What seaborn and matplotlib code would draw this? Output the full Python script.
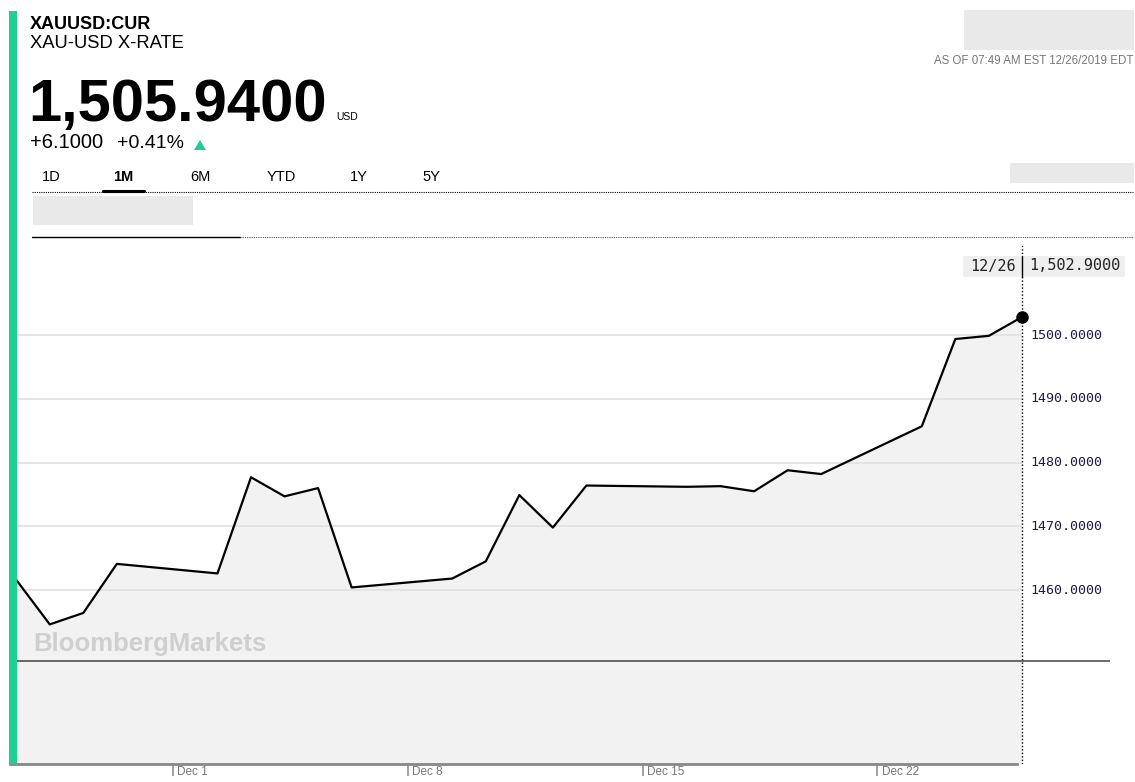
import pandas as pd
import matplotlib.pyplot as plt
import matplotlib.dates as mdates
from matplotlib.patches import Rectangle, Polygon
from matplotlib.lines import Line2D
import seaborn as sns

# data (daily fixes at 07:49)
days = ['2019-11-26', '2019-11-27', '2019-11-28', '2019-11-29',
        '2019-12-02', '2019-12-03', '2019-12-04', '2019-12-05', '2019-12-06',
        '2019-12-09', '2019-12-10', '2019-12-11', '2019-12-12', '2019-12-13',
        '2019-12-16', '2019-12-17', '2019-12-18', '2019-12-19', '2019-12-20',
        '2019-12-23', '2019-12-24', '2019-12-25', '2019-12-26']
prices = [1461.6, 1454.6, 1456.4, 1464.1,
          1462.6, 1477.7, 1474.7, 1476.0, 1460.4,
          1461.8, 1464.5, 1474.9, 1469.8, 1476.4,
          1476.2, 1476.3, 1475.5, 1478.8, 1478.2,
          1485.7, 1499.4, 1499.9, 1502.9]
grid_levels = [1460, 1470, 1480, 1490, 1500]
ref_level = 1448.85
tick_days = ['2019-12-01', '2019-12-08', '2019-12-15', '2019-12-22']
tick_labels = ['Dec 1', 'Dec 8', 'Dec 15', 'Dec 22']
tabs = ['1D', '1M', '6M', 'YTD', '1Y', '5Y']

W, H = 1135, 782
GREEN = '#1fcf96'


def fx(x):
    return x / W


def fy(y):
    return 1 - y / H


def main():
    sns.set_theme(style='white')
    plt.rcParams['font.family'] = ['Liberation Sans', 'DejaVu Sans']
    plt.rcParams['text.color'] = 'black'

    df = pd.DataFrame({'date': pd.to_datetime(days) + pd.Timedelta(hours=7, minutes=49),
                       'price': prices})
    last_date = df['date'].iloc[-1]
    last_price = df['price'].iloc[-1]

    fig = plt.figure(figsize=(W / 100, H / 100), dpi=100)
    fig.patch.set_facecolor('white')

    # plot area in pixels: x 10..1110, y 240..764
    ax = fig.add_axes([fx(10), fy(764), (1110 - 10) / W, (764 - 240) / H])
    ax.set_facecolor('none')

    d1 = mdates.date2num(pd.Timestamp('2019-12-01'))
    px_day = 33.54
    ax.set_xlim(d1 - 163 / px_day, d1 + 937 / px_day)
    ax.set_ylim(1460 - 174 / 6.37, 1460 + 350 / 6.37)
    x0 = ax.get_xlim()[0]
    y0 = ax.get_ylim()[0]

    ax.hlines(grid_levels, x0, mdates.date2num(last_date), color='#e2e2e2', lw=1.3, zorder=1)
    ax.fill_between(df['date'], df['price'], y0, color='#f2f2f2', lw=0, zorder=0)
    ax.axhline(ref_level, color='#505050', lw=1.2, zorder=2)
    sns.lineplot(data=df, x='date', y='price', ax=ax, color='black', lw=1.6, zorder=4)
    ax.plot([last_date], [last_price], 'o', color='black', ms=8, zorder=5)
    ax.axvline(last_date, ymin=0, ymax=(764 - 245) / 524, color='black', lw=1,
               linestyle=(0, (1, 1.5)), zorder=3)

    for v in grid_levels:
        ax.annotate(f'{v:.4f}', xy=(last_date, v), xytext=(5.5, 0), textcoords='offset points',
                    va='center', ha='left', fontsize=9.6, family='DejaVu Sans Mono',
                    color='#1c1c4a')

    for s in ['left', 'right', 'top']:
        ax.spines[s].set_visible(False)
    ax.spines['bottom'].set_color('#888888')
    ax.spines['bottom'].set_linewidth(2)
    ax.spines['bottom'].set_bounds(x0, mdates.date2num(last_date) - 0.15)

    ax.set_yticks([])
    ax.set_xticks(pd.to_datetime(tick_days))
    ax.set_xticklabels([])
    ax.tick_params(axis='x', bottom=True, direction='out', length=8.6, width=1.3, color='#9a9a9a')
    for d, lab in zip(pd.to_datetime(tick_days), tick_labels):
        ax.annotate(lab, xy=(d, 0), xycoords=('data', 'axes fraction'), xytext=(3, -1.5),
                    textcoords='offset points', va='top', ha='left', fontsize=8.5, color='#777777')
    ax.set_xlabel('')
    ax.set_ylabel('')

    # watermark
    fig.text(fx(33), fy(650.5), 'BloombergMarkets', fontsize=18.5, fontweight='bold',
             color='#cfcfcf', va='baseline')

    # tooltip at the last point
    fig.add_artist(Rectangle((fx(963), fy(277)), (1125 - 963) / W, 21 / H,
                             color='#efefef', lw=0, zorder=6))
    fig.add_artist(Line2D([fx(1022), fx(1022)], [fy(277), fy(256)], color='black', lw=1, zorder=7))
    fig.text(fx(993), fy(266), last_date.strftime('%m/%d'), family='DejaVu Sans Mono',
             fontsize=11, ha='center', va='center', color='#222222', zorder=7)
    fig.text(fx(1029), fy(266), f'{last_price:,.4f}', family='DejaVu Sans Mono',
             fontsize=11, ha='left', va='center', color='#222222', zorder=7)

    # left green bar
    fig.add_artist(Rectangle((fx(9), fy(764)), 7.5 / W, (764 - 11) / H, color=GREEN, lw=0))

    # header
    fig.text(fx(30), fy(29), 'XAUUSD:CUR', fontsize=13, fontweight='bold', va='baseline')
    fig.text(fx(30), fy(48), 'XAU-USD X-RATE', fontsize=13.2, va='baseline')
    fig.text(fx(28), fy(120.5), '1,505.9400', fontsize=43, fontweight='bold', va='baseline')
    fig.text(fx(336), fy(119.5), 'USD', fontsize=7.5, va='baseline')
    fig.text(fx(30), fy(148.5), '+6.1000', fontsize=14.5, va='baseline')
    fig.text(fx(117), fy(148.5), '+0.41%', fontsize=14, va='baseline')
    fig.add_artist(Polygon([(fx(194), fy(150)), (fx(206), fy(150)), (fx(200), fy(140))],
                           closed=True, color=GREEN, lw=0))
    fig.text(fx(1133), fy(64), 'AS OF 07:49 AM EST 12/26/2019 EDT', fontsize=8.3,
             color='#777777', ha='right', va='baseline')

    tab_x = [51, 123, 200, 281, 359, 431]
    for t, x in zip(tabs, tab_x):
        fig.text(fx(x), fy(181), t, fontsize=10.5, ha='center', va='baseline',
                 fontweight='bold' if t == '1M' else 'normal')
    fig.add_artist(Line2D([fx(32), fx(1133)], [fy(192), fy(192)], color='black', lw=0.8,
                          linestyle=(0, (1, 1))))
    fig.add_artist(Line2D([fx(103), fx(144)], [fy(191), fy(191)], color='black', lw=2.2))
    fig.add_artist(Line2D([fx(32), fx(240)], [fy(237.5), fy(237.5)], color='black', lw=1))
    fig.add_artist(Line2D([fx(240), fx(1133)], [fy(237.5), fy(237.5)], color='#555555', lw=0.8,
                          linestyle=(0, (1, 1))))

    # blurred (redacted) blocks
    for (xa, ya, xb, yb) in [(964, 10, 1134, 50), (1010, 163, 1134, 183), (33, 196, 193, 225)]:
        fig.add_artist(Rectangle((fx(xa), fy(yb)), (xb - xa) / W, (yb - ya) / H,
                                 color='#e9e9e9', lw=0))

    plt.savefig('out.png', dpi=100)


if __name__ == '__main__':
    main()
